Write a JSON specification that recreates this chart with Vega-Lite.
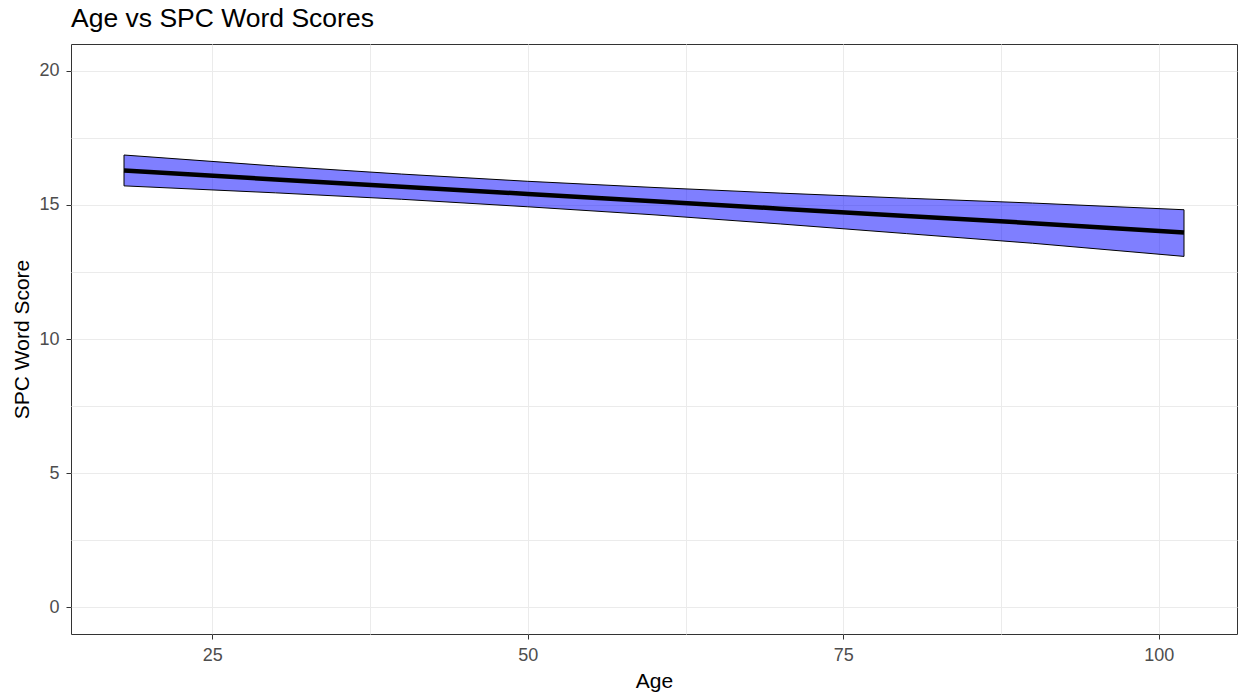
{
  "$schema": "https://vega.github.io/schema/vega-lite/v6.json",
  "width": 1166,
  "height": 590,
  "autosize": {"type": "none"},
  "padding": {"left": 71, "top": 44, "right": 1, "bottom": 62},
  "background": "white",
  "title": {
    "text": "Age vs SPC Word Scores",
    "anchor": "start",
    "frame": "group",
    "font": "Liberation Sans",
    "fontSize": 26.5,
    "fontWeight": "normal",
    "color": "black",
    "baseline": "alphabetic",
    "offset": -9.5
  },
  "config": {
    "view": {"stroke": "#333333", "strokeWidth": 1},
    "axis": {
      "domain": false,
      "labelFont": "Liberation Sans",
      "labelFontSize": 18,
      "labelColor": "#4D4D4D",
      "titleFont": "Liberation Sans",
      "titleFontSize": 21,
      "titleFontWeight": "normal",
      "titleColor": "black",
      "tickColor": "#333333",
      "tickSize": 5,
      "gridColor": "#EBEBEB",
      "gridWidth": 1
    }
  },
  "data": {
    "values": [
      {"age": 18, "fit": 16.28, "lower": 15.71, "upper": 16.86},
      {"age": 30, "fit": 15.95, "lower": 15.45, "upper": 16.45},
      {"age": 40, "fit": 15.68, "lower": 15.21, "upper": 16.15},
      {"age": 50, "fit": 15.41, "lower": 14.93, "upper": 15.88},
      {"age": 60, "fit": 15.14, "lower": 14.63, "upper": 15.65},
      {"age": 70, "fit": 14.86, "lower": 14.29, "upper": 15.44},
      {"age": 80, "fit": 14.59, "lower": 13.93, "upper": 15.25},
      {"age": 90, "fit": 14.32, "lower": 13.57, "upper": 15.07},
      {"age": 102, "fit": 13.97, "lower": 13.08, "upper": 14.82}
    ]
  },
  "encoding": {
    "x": {
      "field": "age",
      "type": "quantitative",
      "scale": {"domain": [13.8, 106.2], "nice": false, "zero": false},
      "axis": {
        "title": "Age",
        "values": [25, 37.5, 50, 62.5, 75, 87.5, 100],
        "labelExpr": "datum.value % 25 === 0 ? datum.label : ''",
        "tickOpacity": {"condition": {"test": "datum.value % 25 !== 0", "value": 0}, "value": 1},
        "labelPadding": 7,
        "titlePadding": 6
      }
    }
  },
  "layer": [
    {
      "mark": {"type": "area", "fill": "blue", "fillOpacity": 0.5, "stroke": "black", "strokeWidth": 1},
      "encoding": {
        "y": {
          "field": "lower",
          "type": "quantitative",
          "scale": {"domain": [-1, 21], "nice": false, "zero": false},
          "axis": {
            "title": "SPC Word Score",
            "values": [0, 2.5, 5, 7.5, 10, 12.5, 15, 17.5, 20],
            "labelExpr": "datum.value % 5 === 0 ? datum.label : ''",
            "tickOpacity": {"condition": {"test": "datum.value % 5 !== 0", "value": 0}, "value": 1},
            "labelPadding": 7,
            "titlePadding": 6
          }
        },
        "y2": {"field": "upper"}
      }
    },
    {
      "mark": {"type": "line", "color": "black", "strokeWidth": 4.5},
      "encoding": {
        "y": {
          "field": "fit",
          "type": "quantitative",
          "scale": {"domain": [-1, 21], "nice": false, "zero": false},
          "axis": {
            "title": "SPC Word Score",
            "values": [0, 2.5, 5, 7.5, 10, 12.5, 15, 17.5, 20],
            "labelExpr": "datum.value % 5 === 0 ? datum.label : ''",
            "tickOpacity": {"condition": {"test": "datum.value % 5 !== 0", "value": 0}, "value": 1},
            "labelPadding": 7,
            "titlePadding": 6
          }
        }
      }
    }
  ]
}
